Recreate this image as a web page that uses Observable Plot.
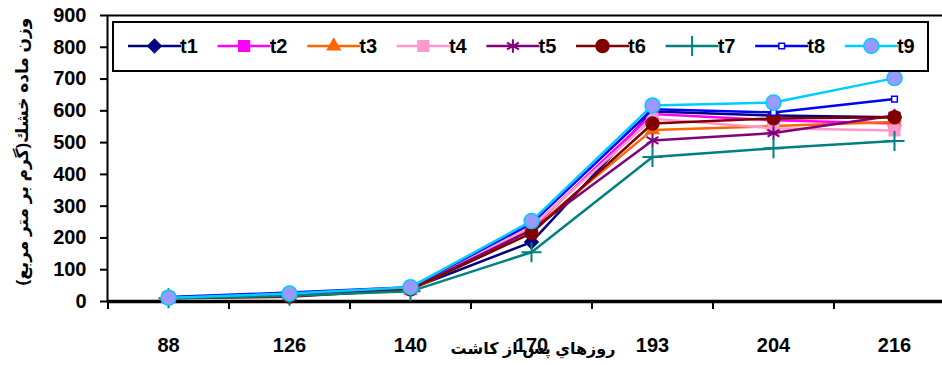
<!DOCTYPE html>
<html>
<head>
<meta charset="utf-8">
<script src="https://cdn.jsdelivr.net/npm/d3@7"></script>
<script src="https://cdn.jsdelivr.net/npm/@observablehq/plot@0.6"></script>
<style>
  html, body { margin: 0; padding: 0; background: #fff; overflow: hidden; }
  #chart { width: 942px; height: 365px; overflow: hidden; }
  #chart svg { max-width: none !important; }
</style>
</head>
<body>
<div id="chart"></div>
<script>
// Sampling days after planting (x categories)
const days = ["88", "126", "140", "170", "193", "204", "216"];
const seriesNames = ["t1", "t2", "t3", "t4", "t5", "t6", "t7", "t8", "t9"];
const yTicks = [0, 100, 200, 300, 400, 500, 600, 700, 800, 900];

// Dry matter weight (g per m²) for each treatment
const t1 = [12, 20, 40, 187, 598, 585, 580];
const t2 = [12, 22, 42, 230, 590, 570, 560];
const t3 = [10, 18, 35, 225, 540, 552, 565];
const t4 = [12, 22, 38, 235, 575, 545, 538];
const t5 = [12, 22, 40, 225, 507, 530, 585];
const t6 = [10, 15, 38, 215, 560, 576, 580];
const t7 = [10, 18, 32, 155, 455, 482, 505];
const t8 = [14, 28, 45, 245, 605, 595, 637];
const t9 = [12, 25, 45, 253, 617, 626, 703];

const xTitle = "روزهاي پس از كاشت";
const yTitle = "وزن ماده خشك(گرم بر متر مربع)";

const values = [t1, t2, t3, t4, t5, t6, t7, t8, t9];
const rows = seriesNames.flatMap((s, i) => days.map((d, j) => ({series: s, day: d, value: values[i][j]})));

// Line colour, marker shape and marker paint per treatment
const styles = {
  t1: {line: "#000080", symbol: "diamond2", r: 6, fill: "#000080", stroke: "#000080"},
  t2: {line: "#FF00FF", symbol: "square", r: 6, fill: "#FF00FF", stroke: "#FF00FF"},
  t3: {line: "#FF6600", symbol: "triangle2", r: 6, fill: "#FF6600", stroke: "#FF6600"},
  t4: {line: "#FF99CC", symbol: "square", r: 6, fill: "#FF99CC", stroke: "#FF99CC"},
  t5: {line: "#800080", symbol: "asterisk", r: 6.5, fill: "none", stroke: "#800080"},
  t6: {line: "#800000", symbol: "circle", r: 6.5, fill: "#800000", stroke: "#800000"},
  t7: {line: "#008080", symbol: "plus", r: 6.5, fill: "none", stroke: "#008080"},
  t8: {line: "#0000FF", symbol: "square", r: 3.2, fill: "#fff", stroke: "#0000FF"},
  t9: {line: "#00CCFF", symbol: "circle", r: 7.5, fill: "#9999FF", stroke: "#00CCFF"}
};

// The plotting area runs slightly past the right edge of the page
const W = 960, H = 365, mL = 107, mR = 6, mT = 15, mB = 64;
const step = (W - mL - mR) / days.length;
const font = "'Liberation Sans', Arial, 'DejaVu Sans', sans-serif";

const seriesMarks = seriesNames.flatMap(s => {
  const st = styles[s];
  const data = rows.filter(d => d.series === s);
  return [
    Plot.lineY(data, {x: "day", y: "value", stroke: st.line, strokeWidth: 2.5}),
    Plot.dot(data, {x: "day", y: "value", symbol: () => st.symbol, r: st.r,
      fill: st.fill, stroke: st.stroke, strokeWidth: st.fill === "none" ? 2 : 1.5})
  ];
});

const chart = Plot.plot({
  width: W, height: H,
  marginLeft: mL, marginRight: mR, marginTop: mT, marginBottom: mB,
  style: {fontFamily: font, fontWeight: "bold", color: "#000", background: "#fff", maxWidth: "none"},
  x: {type: "point", domain: days, padding: 0.5, label: null},
  y: {domain: [0, 900], label: null},
  symbol: {type: "identity"},
  marks: [
    Plot.frame({stroke: "#000", strokeWidth: 2}),
    Plot.ruleY([0], {stroke: "#000", strokeWidth: 3.5}),
    Plot.axisY({ticks: yTicks, tickSize: 7, tickPadding: 14, fontSize: 20, fontWeight: "bold", strokeWidth: 2}),
    Plot.axisX({ticks: days, tickSize: 8, tickFormat: () => "", dx: -step / 2, strokeWidth: 2}),
    Plot.axisX({ticks: days, tickSize: 0, tickPadding: 36, fontSize: 20, fontWeight: "bold"}),
    ...seriesMarks,
    Plot.text([xTitle], {frameAnchor: "bottom", textAnchor: "middle", lineAnchor: "middle",
      dx: 2, dy: 47, fontSize: 16, fontWeight: "bold", fill: "#000"}),
    Plot.text([yTitle], {frameAnchor: "left", textAnchor: "middle", lineAnchor: "middle",
      rotate: -90, dx: -85, dy: -7, fontSize: 17, fontWeight: "bold", fill: "#000"})
  ]
});

document.getElementById("chart").appendChild(chart);

// Legend box across the top of the plotting area
const symbolTypes = {
  diamond2: d3.symbolDiamond2, square: d3.symbolSquare, triangle2: d3.symbolTriangle2,
  asterisk: d3.symbolAsterisk, circle: d3.symbolCircle, plus: d3.symbolPlus
};
const svg = d3.select(chart.tagName.toLowerCase() === "svg" ? chart : chart.querySelector("svg"));
const legend = svg.append("g").attr("font-family", font).attr("font-weight", "bold");
legend.append("rect")
  .attr("x", 113).attr("y", 22).attr("width", 815).attr("height", 49)
  .attr("fill", "#fff").attr("stroke", "#000").attr("stroke-width", 2);
seriesNames.forEach((s, i) => {
  const st = styles[s];
  const x0 = 128 + i * 89.6, yc = 46;
  const g = legend.append("g");
  g.append("line").attr("x1", x0).attr("x2", x0 + 53).attr("y1", yc).attr("y2", yc)
    .attr("stroke", st.line).attr("stroke-width", 2.5);
  g.append("path")
    .attr("transform", `translate(${x0 + 26.5},${yc})`)
    .attr("d", d3.symbol(symbolTypes[st.symbol], st.r * st.r * Math.PI)())
    .attr("fill", st.fill).attr("stroke", st.stroke)
    .attr("stroke-width", st.fill === "none" ? 2 : 1.5);
  g.append("text").attr("x", x0 + 61).attr("y", yc).attr("dy", "0.36em")
    .attr("font-size", 20).attr("fill", "#000").text(s);
});
</script>
</body>
</html>
